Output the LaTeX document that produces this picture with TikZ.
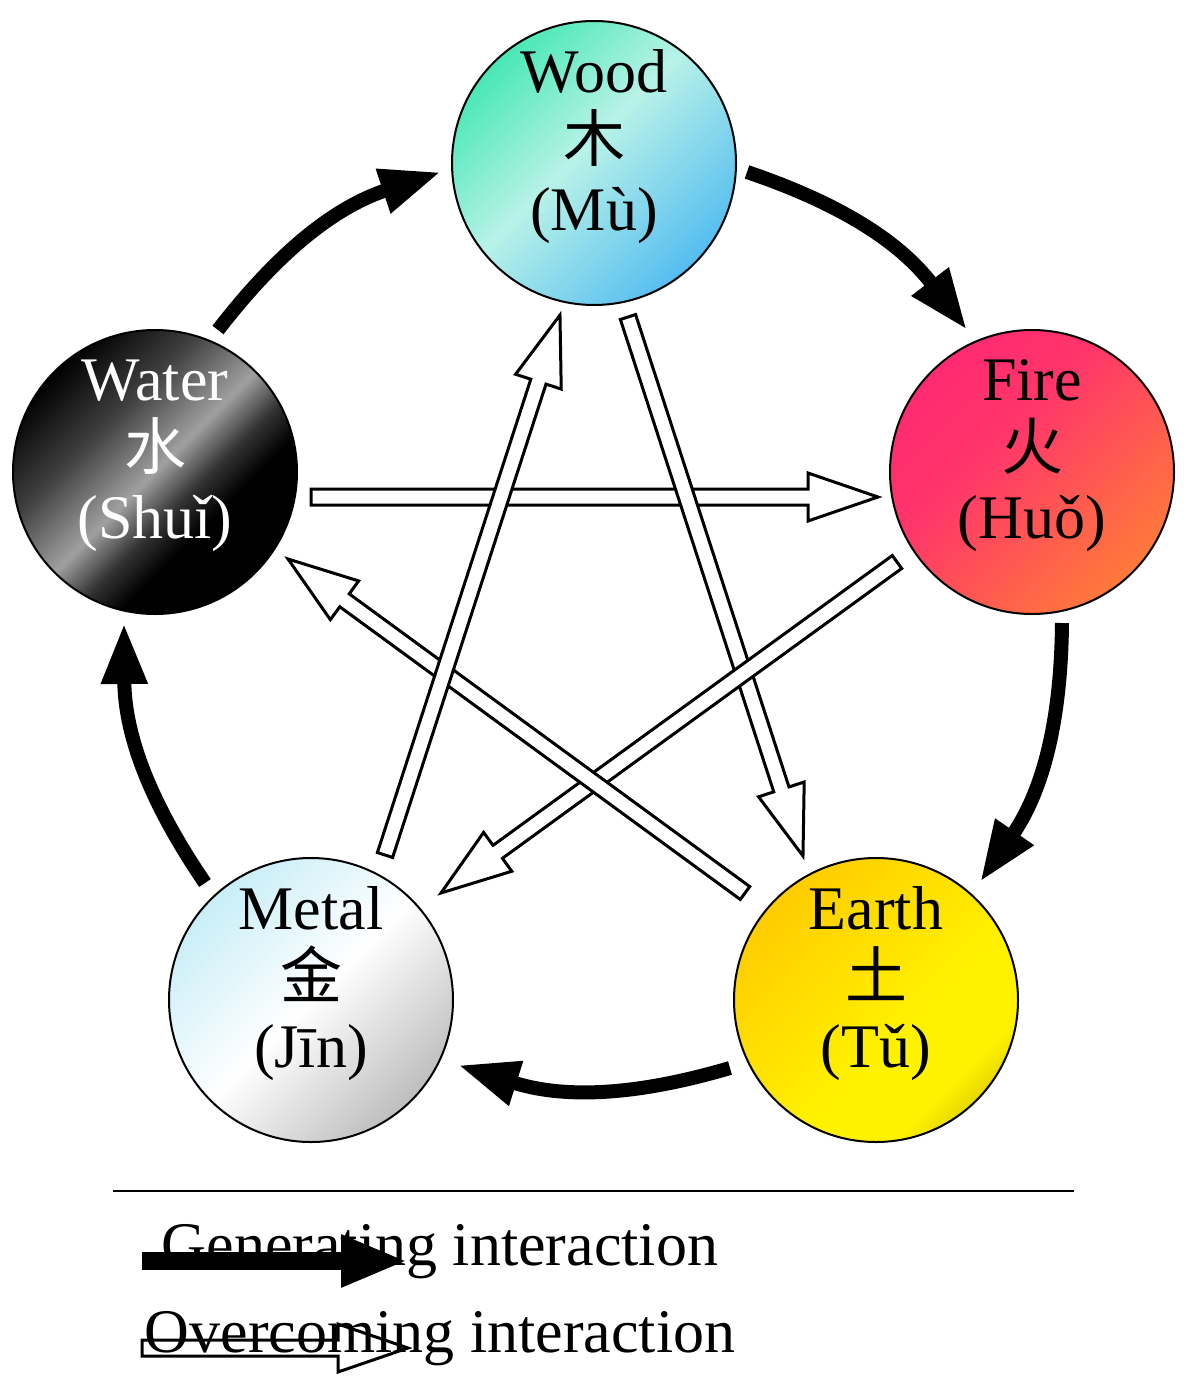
\documentclass[tikz,border=0pt]{standalone}
\usepackage{fontspec}
\setmainfont{Liberation Serif}
\newfontfamily\cjkfont{Noto Sans CJK SC}
\usetikzlibrary{arrows.meta,calc}
\definecolor{woodA}{HTML}{48E8B4}
\definecolor{woodB}{HTML}{B8F2E8}
\definecolor{woodC}{HTML}{55BDF0}
\definecolor{fireA}{HTML}{FF2A72}
\definecolor{fireC}{HTML}{FF7A3A}
\definecolor{earthA}{HTML}{FFCC00}
\definecolor{earthB}{HTML}{FFF200}
\definecolor{earthC}{HTML}{E6D800}
\definecolor{metalA}{HTML}{C8EEF7}
\definecolor{metalC}{HTML}{BEBEBE}
\definecolor{waterB}{HTML}{A0A0A0}
\pgfdeclarehorizontalshading{woodsh}{100bp}{color(0bp)=(woodA); color(25bp)=(woodA); color(47bp)=(woodB); color(75bp)=(woodC); color(100bp)=(woodC)}
\pgfdeclarehorizontalshading{firesh}{100bp}{color(0bp)=(fireA); color(25bp)=(fireA); color(42bp)=(fireA!85!fireC); color(75bp)=(fireC); color(100bp)=(fireC)}
\pgfdeclarehorizontalshading{earthsh}{100bp}{color(0bp)=(earthA); color(25bp)=(earthA); color(58bp)=(earthB); color(70bp)=(earthB); color(75bp)=(earthC); color(100bp)=(earthC)}
\pgfdeclarehorizontalshading{metalsh}{100bp}{color(0bp)=(metalA); color(25bp)=(metalA); color(50bp)=(white); color(75bp)=(metalC); color(100bp)=(metalC)}
\pgfdeclarehorizontalshading{watersh}{100bp}{color(0bp)=(black); color(25bp)=(black); color(38bp)=(black!75!white); color(50bp)=(waterB); color(57bp)=(black!80!white); color(63bp)=(black); color(75bp)=(black); color(100bp)=(black)}
\begin{document}
\begin{tikzpicture}[x=1pt,y=-1pt,
  elem/.style={circle, draw=black, line width=2pt, minimum size=284pt, inner sep=0pt, shade, shading angle=-45},
  etext/.style={align=center, font=\fontsize{62}{69}\selectfont, inner sep=0pt},
  gen/.style={line width=14pt, -{Triangle[length=61pt,width=43pt]}, bend left=17},
  hollow/.style={draw=black, line width=3pt, fill=white, line join=miter,
    to path={let \p1=(\tikztostart), \p2=(\tikztotarget),
      \n1={atan2(\y2-\y1,\x2-\x1)}, \n2={veclen(\x2-\x1,\y2-\y1)} in
      {[shift={(\x1,\y1)}, rotate=\n1]
        (0pt,-8pt) -- ({\n2*1pt-70pt},-8pt) -- ({\n2*1pt-70pt},-24pt) -- ({\n2*1pt},0pt)
        -- ({\n2*1pt-70pt},24pt) -- ({\n2*1pt-70pt},8pt) -- (0pt,8pt) -- cycle}}},
  legtext/.style={anchor=base, inner sep=0pt, font=\fontsize{62}{70}\selectfont}]
\useasboundingbox[fill=white] (0,0) rectangle (1188,1400);
% elements
\node[elem, shading=woodsh]  (wood)  at (594,163)  {};
\node[elem, shading=firesh]  (fire)  at (1032,472) {};
\node[elem, shading=earthsh] (earth) at (876,1000) {};
\node[elem, shading=metalsh] (metal) at (311,1000) {};
\node[elem, shading=watersh] (water) at (155,472)  {};
\node[etext] (woodt)  at ([yshift=16pt]wood.center)  {Wood\\{\cjkfont 木}\\(Mù)};
\node[etext] (firet)  at ([yshift=16pt]fire.center)  {Fire\\{\cjkfont 火}\\(Huǒ)};
\node[etext] (eartht) at ([yshift=16pt]earth.center) {Earth\\{\cjkfont 土}\\(Tǔ)};
\node[etext] (metalt) at ([yshift=16pt]metal.center) {Metal\\{\cjkfont 金}\\(Jīn)};
\node[etext, text=white] (watert) at ([yshift=16pt]water.center) {Water\\{\cjkfont 水}\\(Shuǐ)};
% generating cycle
\draw[gen] ([shift={(63,-142)}]water.center) to ([shift={(-153,9)}]wood.center);
\draw[gen] ([shift={(153,9)}]wood.center) to ([shift={(-65,-142)}]fire.center);
\draw[gen] ([shift={(30,151)}]fire.center) to ([shift={(104,-118)}]earth.center);
\draw[gen] ([shift={(-146,68)}]earth.center) to ([shift={(147,65)}]metal.center);
\draw[gen] ([shift={(-106,-117)}]metal.center) to ([shift={(-31,151)}]water.center);
% overcoming cycle
\draw[hollow] ([shift={(156,25)}]water.center) to ([shift={(-154,25)}]fire.center);
\draw[hollow] ([shift={(34,154)}]wood.center) to ([shift={(-73,-144)}]earth.center);
\draw[hollow] ([shift={(-135,90)}]fire.center) to ([shift={(130,-107)}]metal.center);
\draw[hollow] ([shift={(-131,-107)}]earth.center) to ([shift={(133,87)}]water.center);
\draw[hollow] ([shift={(74,-145)}]metal.center) to ([shift={(-34,152)}]wood.center);
% legend
\coordinate (ruleL) at (113,1191);
\coordinate (ruleR) at (1074,1191);
\draw[line width=2pt] (ruleL) -- (ruleR);
\coordinate (genL) at (142,1261);
\coordinate (genR) at (408,1261);
\coordinate (ovL) at (142,1348);
\coordinate (ovR) at (408,1348);
\draw[line width=18pt, -{Triangle[length=67pt,width=48pt]}] (genL) -- (genR);
\draw[hollow] (ovL) to (ovR);
\node[legtext] (gentext) at (440,1265) {Generating interaction};
\node[legtext] (ovtext) at (440,1352) {Overcoming interaction};
\end{tikzpicture}
\end{document}
